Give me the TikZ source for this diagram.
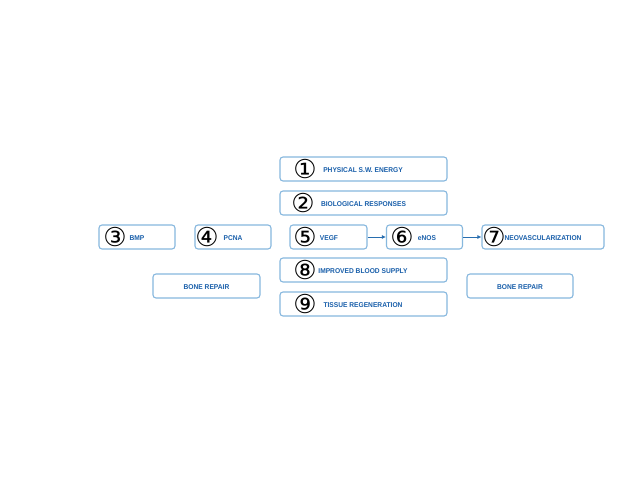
\documentclass[tikz,border=0pt]{standalone}
\usepackage{fontspec}
\setmainfont{Liberation Sans}
\newfontfamily\circfont{DejaVu Sans}
\usetikzlibrary{arrows.meta}
\definecolor{bordc}{RGB}{135,184,222}
\definecolor{txtc}{RGB}{25,95,170}
\definecolor{arrc}{RGB}{40,110,175}
\tikzset{
  x=1pt,y=-1pt,
  box/.style={draw=bordc, line width=1.1pt, rounded corners=3pt, minimum height=24pt, inner sep=0pt, fill=white},
  lbl/.style={text=txtc, font=\fontsize{7}{8}\selectfont\bfseries, inner sep=0pt, xscale=0.95},
  num/.style={font=\circfont\fontsize{26}{26}\selectfont, inner sep=0pt, text=black},
  conn/.style={draw=arrc, line width=0.8pt, -{Latex[length=4pt,width=4pt]}}
}
\begin{document}
\begin{tikzpicture}
\useasboundingbox (0,0) rectangle (640,480);
\fill[white] (0,0) rectangle (640,480);
% boxes
\node[box, minimum width=167pt] (b1) at (363.5,169) {};
\node[box, minimum width=167pt] (b2) at (363.5,203) {};
\node[box, minimum width=76pt] (b3) at (137,237) {};
\node[box, minimum width=76pt] (b4) at (233,237) {};
\node[box, minimum width=77pt] (b5) at (328.5,237) {};
\node[box, minimum width=76pt] (b6) at (424.5,237) {};
\node[box, minimum width=122pt] (b7) at (543,237) {};
\node[box, minimum width=167pt] (b8) at (363.5,270) {};
\node[box, minimum width=167pt] (b9) at (363.5,304) {};
\node[box, minimum width=107pt] (br1) at (206.5,286) {};
\node[box, minimum width=106pt] (br2) at (520,286) {};
% labels
\node[lbl] (t1) at (363,170) {PHYSICAL S.W. ENERGY};
\node[lbl] (t2) at (363.5,204) {BIOLOGICAL RESPONSES};
\node[lbl] (t3) at (137,238) {BMP};
\node[lbl] (t4) at (233,238) {PCNA};
\node[lbl] (t5) at (329,238) {VEGF};
\node[lbl] (t6) at (427,238) {eNOS};
\node[lbl] (t7) at (543,238) {NEOVASCULARIZATION};
\node[lbl] (t8) at (363,271) {IMPROVED BLOOD SUPPLY};
\node[lbl] (t9) at (363,305) {TISSUE REGENERATION};
\node[lbl] (tr1) at (206.5,287) {BONE REPAIR};
\node[lbl] (tr2) at (520,287) {BONE REPAIR};
% numbers
\node[num] (n1) at (305,169) {①};
\node[num] (n2) at (303,203) {②};
\node[num] (n3) at (115,237) {③};
\node[num] (n4) at (207,237) {④};
\node[num] (n5) at (305,237) {⑤};
\node[num] (n6) at (402,237) {⑥};
\node[num] (n7) at (494,237) {⑦};
\node[num] (n8) at (305,270) {⑧};
\node[num] (n9) at (305,304) {⑨};
% connectors
\draw[conn] (b5.east) -- (b6.west);
\draw[conn] (b6.east) -- (b7.west);
\end{tikzpicture}
\end{document}
